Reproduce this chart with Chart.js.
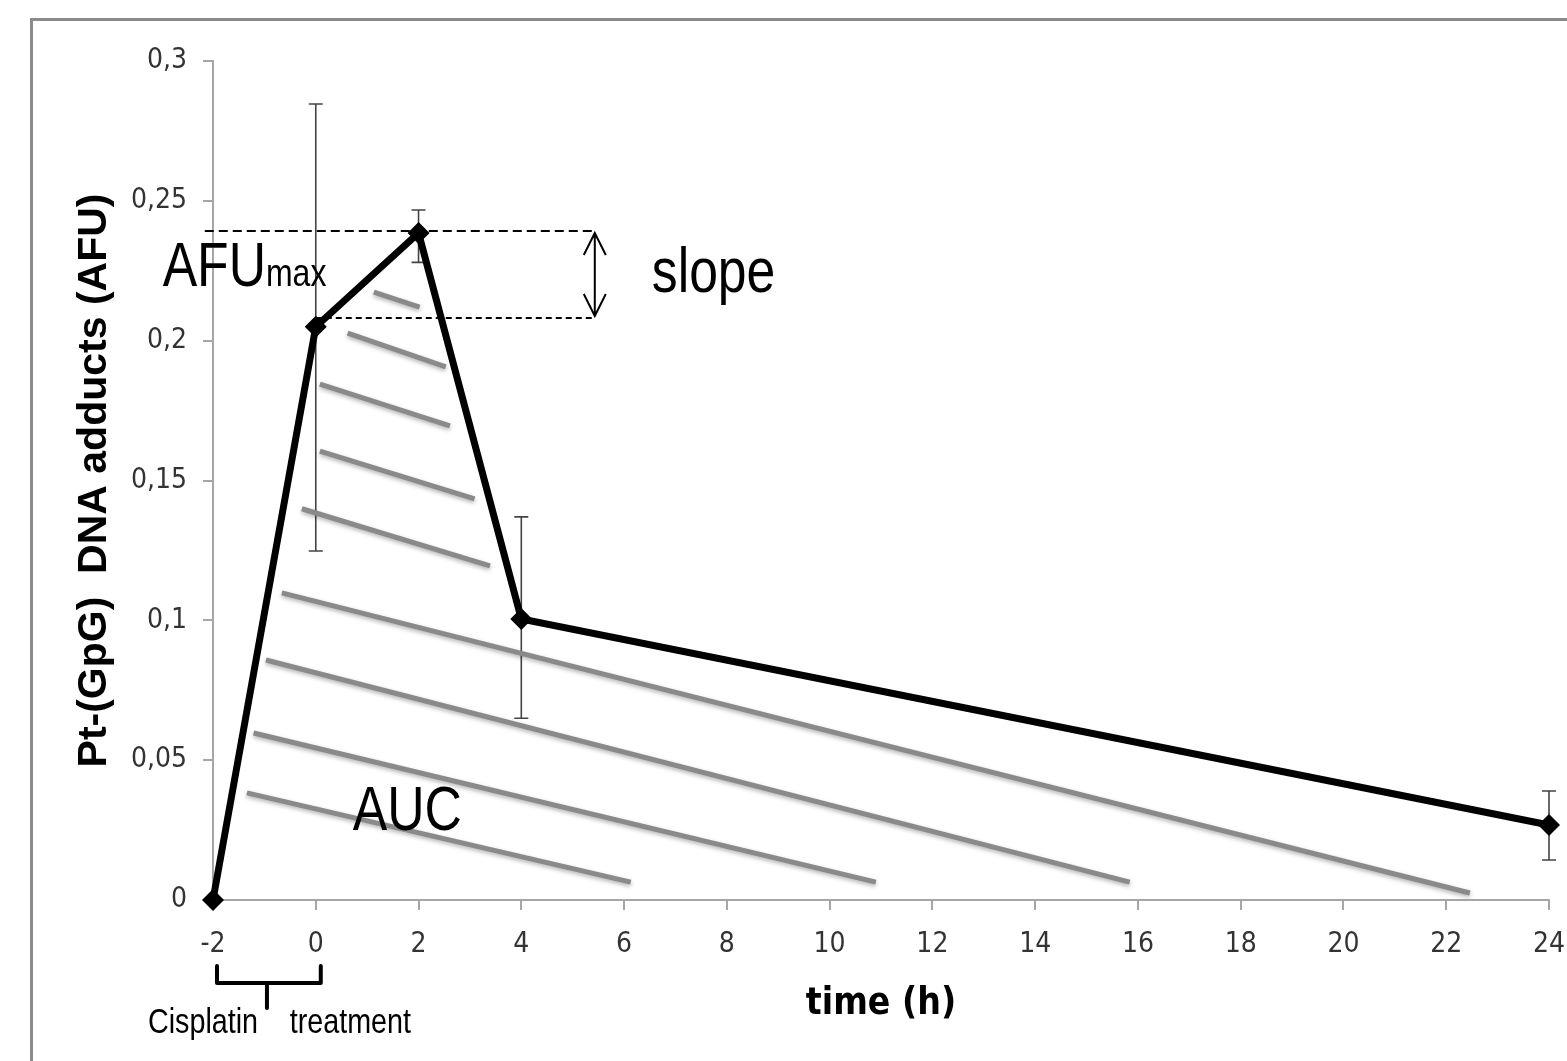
<!DOCTYPE html>
<html>
<head>
<meta charset="utf-8">
<script src="https://cdn.jsdelivr.net/npm/chart.js@4.4.0/dist/chart.umd.min.js"></script>
<style>
  html, body { margin: 0; padding: 0; background: #fff; overflow: hidden; }
</style>
</head>
<body>
<canvas id="chart" width="1567" height="1061"></canvas>
<script>
// data
const hours = [-2, 0, 2, 4, 24];
const adducts = [0, 0.205, 0.2385, 0.1005, 0.0268];
const errLow = [0, 0.1248, 0.228, 0.065, 0.0143];
const errHigh = [0, 0.2846, 0.2467, 0.137, 0.039];

const yTickLabels = ["0", "0,05", "0,1", "0,15", "0,2", "0,25", "0,3"];
const xTickLabels = ["-2", "0", "2", "4", "6", "8", "10", "12", "14", "16", "18", "20", "22", "24"];

// AUC hatching strokes: [x0, y0, x1, y1]
const hatchLines = [
  [1.13, 0.2174, 2.02, 0.2120],
  [0.62, 0.2027, 2.53, 0.1906],
  [0.08, 0.1845, 2.61, 0.1695],
  [0.08, 0.1605, 3.09, 0.1434],
  [-0.27, 0.1399, 3.39, 0.1195],
  [-0.66, 0.1098, 22.46, 0.0025],
  [-0.97, 0.0858, 15.84, 0.0064],
  [-1.21, 0.0597, 10.90, 0.0064],
  [-1.34, 0.0383, 6.13, 0.0064]
];

// AFUmax / slope guide levels
const maxLevel = 0.2392;
const startLevel = 0.2081;
const guideEnd = 5.43;

const NARROW = "'DejaVu Sans Condensed', 'Liberation Sans Narrow', sans-serif";
const ARIAL = "'Liberation Sans', Arial, sans-serif";

// Arial Narrow look-alike: Arial squeezed horizontally
function narrowText(ctx, text, x, y, size) {
  ctx.save();
  ctx.font = size + 'px ' + ARIAL;
  ctx.translate(x, y);
  ctx.scale(0.82, 1);
  ctx.fillText(text, 0, 0);
  const w = ctx.measureText(text).width * 0.82;
  ctx.restore();
  return w;
}

const datasets = [{
  data: hours.map((h, i) => ({ x: h, y: adducts[i] })),
  borderColor: '#000',
  backgroundColor: '#000',
  borderWidth: 7,
  pointStyle: 'rectRot',
  pointRadius: 11,
  pointBorderWidth: 0,
  showLine: true,
  clip: false,
  order: 0
}, {
  data: [{ x: -2.16, y: maxLevel }, { x: guideEnd, y: maxLevel }],
  borderColor: '#000', borderWidth: 2, borderDash: [9, 5],
  pointRadius: 0, showLine: true, clip: false, order: 1
}, {
  data: [{ x: 0, y: startLevel }, { x: guideEnd, y: startLevel }],
  borderColor: '#000', borderWidth: 2, borderDash: [6, 4],
  pointRadius: 0, showLine: true, clip: false, order: 1
}];

hatchLines.forEach(l => {
  datasets.push({
    data: [{ x: l[0], y: l[1] }, { x: l[2], y: l[3] }],
    borderColor: '#8a8a8a',
    borderWidth: 5,
    pointRadius: 0,
    showLine: true,
    order: 2
  });
});

const extras = {
  id: 'extras',
  beforeDraw(chart) {
    const ctx = chart.ctx;
    ctx.save();
    ctx.fillStyle = '#fff';
    ctx.fillRect(0, 0, chart.width, chart.height);
    ctx.strokeStyle = '#8a8a8a';
    ctx.lineWidth = 3;
    ctx.strokeRect(31.5, 19.5, chart.width + 20, chart.height + 20);
    ctx.restore();
  },
  beforeDatasetDraw(chart, args) {
    // soft shadow under the hatch strokes
    if (args.index >= 3) {
      const ctx = chart.ctx;
      ctx.save();
      ctx.shadowColor = 'rgba(0,0,0,0.3)';
      ctx.shadowBlur = 4;
      ctx.shadowOffsetY = 2;
    }
  },
  afterDatasetDraw(chart, args) {
    if (args.index >= 3) chart.ctx.restore();
  },
  beforeDatasetsDraw(chart) {
    const ctx = chart.ctx, xs = chart.scales.x, ys = chart.scales.y;
    ctx.save();
    ctx.strokeStyle = '#444';
    ctx.lineWidth = 1.6;
    hours.forEach((h, i) => {
      if (errHigh[i] === errLow[i]) return;
      const px = xs.getPixelForValue(h);
      const top = ys.getPixelForValue(errHigh[i]);
      const bot = ys.getPixelForValue(errLow[i]);
      ctx.beginPath();
      ctx.moveTo(px, top); ctx.lineTo(px, bot);
      ctx.moveTo(px - 7, top); ctx.lineTo(px + 7, top);
      ctx.moveTo(px - 7, bot); ctx.lineTo(px + 7, bot);
      ctx.stroke();
    });
    ctx.restore();
  },
  afterDatasetsDraw(chart) {
    const ctx = chart.ctx, xs = chart.scales.x, ys = chart.scales.y;
    ctx.save();
    // double arrow for slope
    const ax = xs.getPixelForValue(guideEnd);
    const a1 = ys.getPixelForValue(maxLevel) + 2;
    const a2 = ys.getPixelForValue(startLevel) - 2;
    ctx.strokeStyle = '#000';
    ctx.lineWidth = 2;
    ctx.beginPath();
    ctx.moveTo(ax, a1); ctx.lineTo(ax, a2);
    ctx.moveTo(ax - 11, a1 + 22); ctx.lineTo(ax, a1); ctx.lineTo(ax + 11, a1 + 22);
    ctx.moveTo(ax - 11, a2 - 22); ctx.lineTo(ax, a2); ctx.lineTo(ax + 11, a2 - 22);
    ctx.stroke();

    // labels
    ctx.fillStyle = '#000';
    ctx.textBaseline = 'alphabetic';
    ctx.textAlign = 'left';
    const x = xs.getPixelForValue(-2.98), y = ys.getPixelForValue(0.2195);
    const w = narrowText(ctx, 'AFU', x, y, 63);
    narrowText(ctx, 'max', x + w, y, 39);
    narrowText(ctx, 'slope', xs.getPixelForValue(6.54), ys.getPixelForValue(0.2174), 63);
    narrowText(ctx, 'AUC', xs.getPixelForValue(0.72), ys.getPixelForValue(0.025), 63);

    // treatment brace under -2..0
    const b0 = xs.getPixelForValue(-2) + 4;
    const b1 = xs.getPixelForValue(0) + 5;
    const bm = xs.getPixelForValue(-0.95);
    const base = ys.getPixelForValue(0);
    ctx.lineWidth = 4;
    ctx.lineJoin = 'round';
    ctx.lineCap = 'round';
    ctx.beginPath();
    ctx.moveTo(b0, base + 66); ctx.lineTo(b0, base + 83); ctx.lineTo(b1, base + 83); ctx.lineTo(b1, base + 66);
    ctx.moveTo(bm, base + 83); ctx.lineTo(bm, base + 108);
    ctx.stroke();
    narrowText(ctx, 'Cisplatin', b0 - 69, base + 133, 35);
    narrowText(ctx, 'treatment', b1 - 31, base + 133, 35);
    ctx.restore();
  }
};

new Chart(document.getElementById('chart'), {
  type: 'scatter',
  data: { datasets },
  plugins: [extras],
  options: {
    responsive: false,
    animation: false,
    devicePixelRatio: 1,
    layout: { padding: { left: 0, top: 61, right: 18, bottom: 0 } },
    plugins: { legend: { display: false }, tooltip: { enabled: false } },
    scales: {
      x: {
        type: 'linear',
        min: -2, max: 24,
        afterFit: s => { s.height = 161; s.paddingRight = 0; s.paddingLeft = 0; },
        border: { color: '#a6a6a6', width: 2 },
        grid: { drawOnChartArea: false, drawTicks: true, tickLength: 10, color: '#a6a6a6', lineWidth: 2 },
        ticks: {
          stepSize: 2, padding: 18, color: '#333',
          font: { family: NARROW, size: 28 },
          callback: (v, i) => xTickLabels[i]
        },
        title: {
          display: true, text: 'time (h)', color: '#000',
          font: { family: NARROW, size: 37, weight: 'bold' },
          padding: { top: 0, bottom: 34 }
        }
      },
      y: {
        min: 0, max: 0.3,
        afterFit: s => { s.width = 213; },
        border: { color: '#a6a6a6', width: 2 },
        grid: { drawOnChartArea: false, drawTicks: true, tickLength: 10, color: '#a6a6a6', lineWidth: 2 },
        ticks: {
          stepSize: 0.05, padding: 16, color: '#333',
          font: { family: NARROW, size: 28 },
          callback: (v, i) => yTickLabels[i]
        },
        title: {
          display: true, text: 'Pt-(GpG)  DNA adducts (AFU)', color: '#000',
          font: { family: ARIAL, size: 41, weight: 'bold' },
          padding: { top: 70, bottom: 0 }
        }
      }
    }
  }
});
</script>
</body>
</html>
